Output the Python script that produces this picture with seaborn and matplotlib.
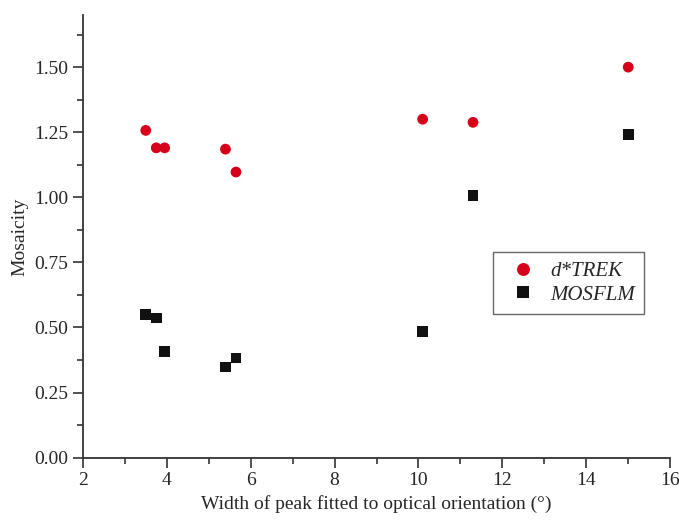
import numpy as np
import pandas as pd
import matplotlib
matplotlib.use('Agg')
import matplotlib.pyplot as plt
from matplotlib.ticker import MultipleLocator
import seaborn as sns

# Values
width_trek = [3.5, 3.75, 3.95, 5.4, 5.65, 10.1, 11.3, 15.0]
mosaic_trek = [1.257, 1.19, 1.19, 1.185, 1.097, 1.30, 1.288, 1.50]
width_mosflm = [3.5, 3.75, 3.95, 5.4, 5.65, 10.1, 11.3, 15.0]
mosaic_mosflm = [0.551, 0.536, 0.409, 0.348, 0.383, 0.483, 1.008, 1.241]

sns.set_style('ticks')
plt.rcParams['font.family'] = ['Liberation Serif', 'DejaVu Serif']

df = pd.concat([
    pd.DataFrame({'width': width_trek, 'mosaicity': mosaic_trek, 'program': 'd*TREK'}),
    pd.DataFrame({'width': width_mosflm, 'mosaicity': mosaic_mosflm, 'program': 'MOSFLM'}),
])

fig = plt.figure(figsize=(6.79, 5.2), dpi=100)
ax = fig.add_axes([0.122, 0.12, 0.865, 0.851])

sns.scatterplot(data=df, x='width', y='mosaicity', hue='program', style='program',
                palette={'d*TREK': '#d7001a', 'MOSFLM': '#111111'},
                markers={'d*TREK': 'o', 'MOSFLM': 's'},
                s=60, linewidth=0, ax=ax)

ax.set_xlim(2, 16)
ax.set_ylim(0, 1.7)
ax.xaxis.set_major_locator(MultipleLocator(2))
ax.xaxis.set_minor_locator(MultipleLocator(1))
ax.yaxis.set_major_locator(MultipleLocator(0.25))
ax.yaxis.set_minor_locator(MultipleLocator(0.125))
ax.yaxis.set_major_formatter(matplotlib.ticker.FormatStrFormatter('%.2f'))
ax.tick_params(which='major', direction='out', length=7, width=1.2, labelsize=14, color='#333333')
ax.tick_params(which='minor', direction='out', length=4, width=1.2, color='#333333')
for side in ['left', 'bottom']:
    ax.spines[side].set_linewidth(1.3)
    ax.spines[side].set_color('#333333')
sns.despine(ax=ax)

ax.set_xlabel('Width of peak fitted to optical orientation (°)', fontsize=14)
ax.set_ylabel('Mosaicity', fontsize=14)

leg = ax.legend(loc='upper left', bbox_to_anchor=(0.68, 0.488), frameon=True,
                fancybox=False, prop={'style': 'italic', 'size': 15},
                markerscale=1.2, handletextpad=0.3, borderpad=0.45, labelspacing=0.2)
leg.get_frame().set_edgecolor('#444444')
leg.get_frame().set_linewidth(1.0)

fig.savefig('out.png', dpi=100)
